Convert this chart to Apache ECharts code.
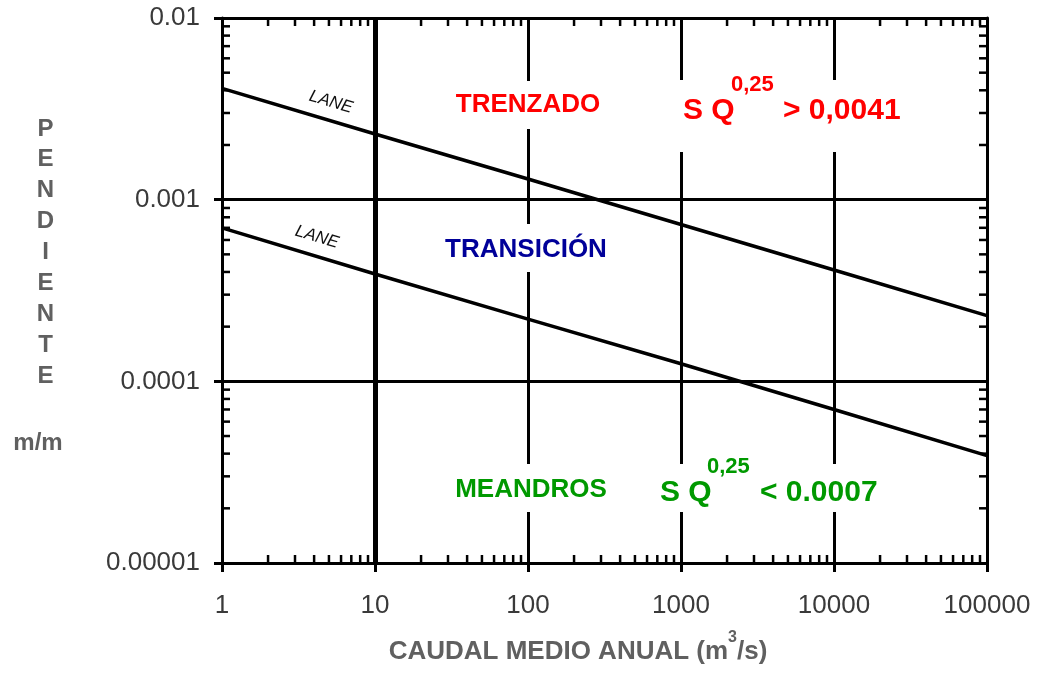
<!DOCTYPE html>
<html><head><meta charset="utf-8">
<script src="https://cdn.jsdelivr.net/npm/echarts@6/dist/echarts.min.js"></script>
<style>html,body{margin:0;padding:0;background:#fff}#c{width:1037px;height:673px}</style>
</head><body><div id="c"></div>
<script>
// ---- data ----
const caudal = [1, 10, 100, 1000, 10000, 100000];
const laneTrenzado = [0.0041, 0.0023, 0.0013, 0.00073, 0.00041, 0.00023];
const laneMeandros = [0.0007, 0.00039, 0.00022, 0.000125, 0.00007, 0.000039];
const xTickLabels = ['1', '10', '100', '1000', '10000', '100000'];
const yTickLabels = ['0.00001', '0.0001', '0.001', '0.01'];
const xDecades = [1, 10, 100, 1000, 10000];
const yDecades = [0.00001, 0.0001, 0.001];
const minorMultipliers = [2, 3, 4, 5, 6, 7, 8, 9];

const X_MIN = 1, X_MAX = 100000, Y_MIN = 0.00001, Y_MAX = 0.01;
const xMinor = xDecades.flatMap(d => minorMultipliers.map(m => m * d));
const yMinor = yDecades.flatMap(d => minorMultipliers.map(m => m * d));

const FONT = "'Liberation Sans', Arial, sans-serif";

function tickSeries(values, side) {
  const data = values.map(v =>
    side === 'bottom' ? [v, Y_MIN] : side === 'top' ? [v, Y_MAX] :
    side === 'left' ? [X_MIN, v] : [X_MAX, v]);
  return {
    type: 'custom', silent: true, z: 5, clip: false, data,
    encode: { x: 0, y: 1 },
    renderItem: (params, api) => {
      const p = api.coord([api.value(0), api.value(1)]);
      const L = 8;
      let shape;
      if (side === 'bottom') shape = { x1: p[0], y1: p[1], x2: p[0], y2: p[1] - L };
      else if (side === 'top') shape = { x1: p[0], y1: p[1], x2: p[0], y2: p[1] + L };
      else if (side === 'left') shape = { x1: p[0], y1: p[1], x2: p[0] + L, y2: p[1] };
      else shape = { x1: p[0], y1: p[1], x2: p[0] - L, y2: p[1] };
      return { type: 'line', shape, style: { stroke: '#000', lineWidth: 2.5 } };
    }
  };
}

const chart = echarts.init(document.getElementById('c'), null, { renderer: 'canvas' });

const axisLine = { show: true, lineStyle: { color: '#000', width: 3 } };

const option = {
  backgroundColor: '#fff',
  animation: false,
  grid: { left: 222, right: 50, top: 18, bottom: 110, containLabel: false },
  xAxis: [
    {
      type: 'log', logBase: 10, min: X_MIN, max: X_MAX, interval: 1,
      position: 'bottom',
      axisLine,
      axisTick: { show: true, inside: false, length: 9, lineStyle: { color: '#000', width: 3 } },
      axisLabel: {
        margin: 30, color: '#3a3a3a', fontSize: 26, fontFamily: FONT,
        formatter: v => xTickLabels[Math.round(Math.log10(v))]
      },
      splitLine: { show: true, lineStyle: { color: '#000', width: 3 } },
      minorTick: { show: false }, minorSplitLine: { show: false }
    },
    {
      type: 'log', logBase: 10, min: X_MIN, max: X_MAX, interval: 1,
      position: 'top',
      axisLine, axisTick: { show: false }, axisLabel: { show: false }, splitLine: { show: false }
    }
  ],
  yAxis: [
    {
      type: 'log', logBase: 10, min: Y_MIN, max: Y_MAX, interval: 1,
      position: 'left',
      axisLine,
      axisTick: { show: true, inside: false, length: 8, lineStyle: { color: '#000', width: 3 } },
      axisLabel: {
        margin: 22, color: '#3a3a3a', fontSize: 26, fontFamily: FONT,
        formatter: v => yTickLabels[Math.round(Math.log10(v)) + 5]
      },
      splitLine: { show: true, lineStyle: { color: '#000', width: 3 } }
    },
    {
      type: 'log', logBase: 10, min: Y_MIN, max: Y_MAX, interval: 1,
      position: 'right',
      axisLine, axisTick: { show: false }, axisLabel: { show: false }, splitLine: { show: false }
    }
  ],
  series: [
    tickSeries(xMinor, 'bottom'),
    tickSeries(xMinor, 'top'),
    tickSeries(yMinor, 'left'),
    tickSeries(yMinor, 'right'),
    {
      type: 'line', name: 'Lane trenzado', symbol: 'none', z: 10,
      data: caudal.map((q, i) => [q, laneTrenzado[i]]),
      lineStyle: { color: '#000', width: 3.5 },
      markLine: {
        silent: true, symbol: 'none', label: { show: false }, z: 4,
        lineStyle: { color: '#000', width: 5, type: 'solid' },
        data: [{ xAxis: 10 }]
      }
    },
    {
      type: 'line', name: 'Lane meandros', symbol: 'none', z: 10,
      data: caudal.map((q, i) => [q, laneMeandros[i]]),
      lineStyle: { color: '#000', width: 3.5 }
    }
  ]
};
chart.setOption(option);

// ---- annotations ----
const RED = '#ff0000', BLUE = '#000099', GREEN = '#009900', GREY = '#606060';
function txt(x, y, text, o) {
  return Object.assign({
    type: 'text', x, y, z: 101, silent: true,
    style: Object.assign({ text, fontFamily: FONT, fontWeight: 'bold', fontSize: 26,
      fill: '#000', align: 'left', verticalAlign: 'middle' }, o || {})
  });
}
function rect(x, y, w, h) {
  return { type: 'rect', z: 100, silent: true, shape: { x, y, width: w, height: h }, style: { fill: '#fff' } };
}
const rot = -16.5 * Math.PI / 180;
chart.setOption({
  graphic: [
    rect(448, 81, 162, 48),
    rect(438, 224, 178, 48),
    rect(445, 464, 460, 48),
    rect(672, 80, 240, 72),
    txt(528, 105, 'TRENZADO', { fill: RED, align: 'center' }),
    txt(683, 111, 'S Q', { fill: RED, fontSize: 30 }),
    txt(731, 84.5, '0,25', { fill: RED, fontSize: 22 }),
    txt(783, 111, '> 0,0041', { fill: RED, fontSize: 30 }),
    txt(526, 250, 'TRANSICIÓN', { fill: BLUE, align: 'center' }),
    txt(531, 490, 'MEANDROS', { fill: GREEN, align: 'center' }),
    txt(660, 492.5, 'S Q', { fill: GREEN, fontSize: 30 }),
    txt(707, 466.5, '0,25', { fill: GREEN, fontSize: 22 }),
    txt(760, 492.5, '< 0.0007', { fill: GREEN, fontSize: 30 }),
    { type: 'text', x: 331, y: 102, rotation: rot, z: 101, silent: true,
      style: { text: 'LANE', fontFamily: FONT, fontStyle: 'italic', fontSize: 17, fill: '#111', align: 'center', verticalAlign: 'middle' } },
    { type: 'text', x: 317, y: 237, rotation: rot, z: 101, silent: true,
      style: { text: 'LANE', fontFamily: FONT, fontStyle: 'italic', fontSize: 17, fill: '#111', align: 'center', verticalAlign: 'middle' } },
    txt(45.5, 113.5, 'P\nE\nN\nD\nI\nE\nN\nT\nE', { fill: GREY, fontSize: 24, align: 'center', verticalAlign: 'top', lineHeight: 30.9 }),
    txt(38, 443, 'm/m', { fill: GREY, fontSize: 24, align: 'center' }),
    { type: 'text', x: 578, y: 652, z: 101, silent: true,
      style: {
        text: '{a|CAUDAL MEDIO ANUAL (m}{s|3}{a|/s)}', align: 'center', verticalAlign: 'middle',
        rich: {
          a: { fontFamily: FONT, fontWeight: 'bold', fontSize: 26, fill: GREY, lineHeight: 44 },
          s: { fontFamily: FONT, fontWeight: 'bold', fontSize: 16, fill: GREY, lineHeight: 16, verticalAlign: 'top' }
        }
      } }
  ]
});
</script></body></html>
